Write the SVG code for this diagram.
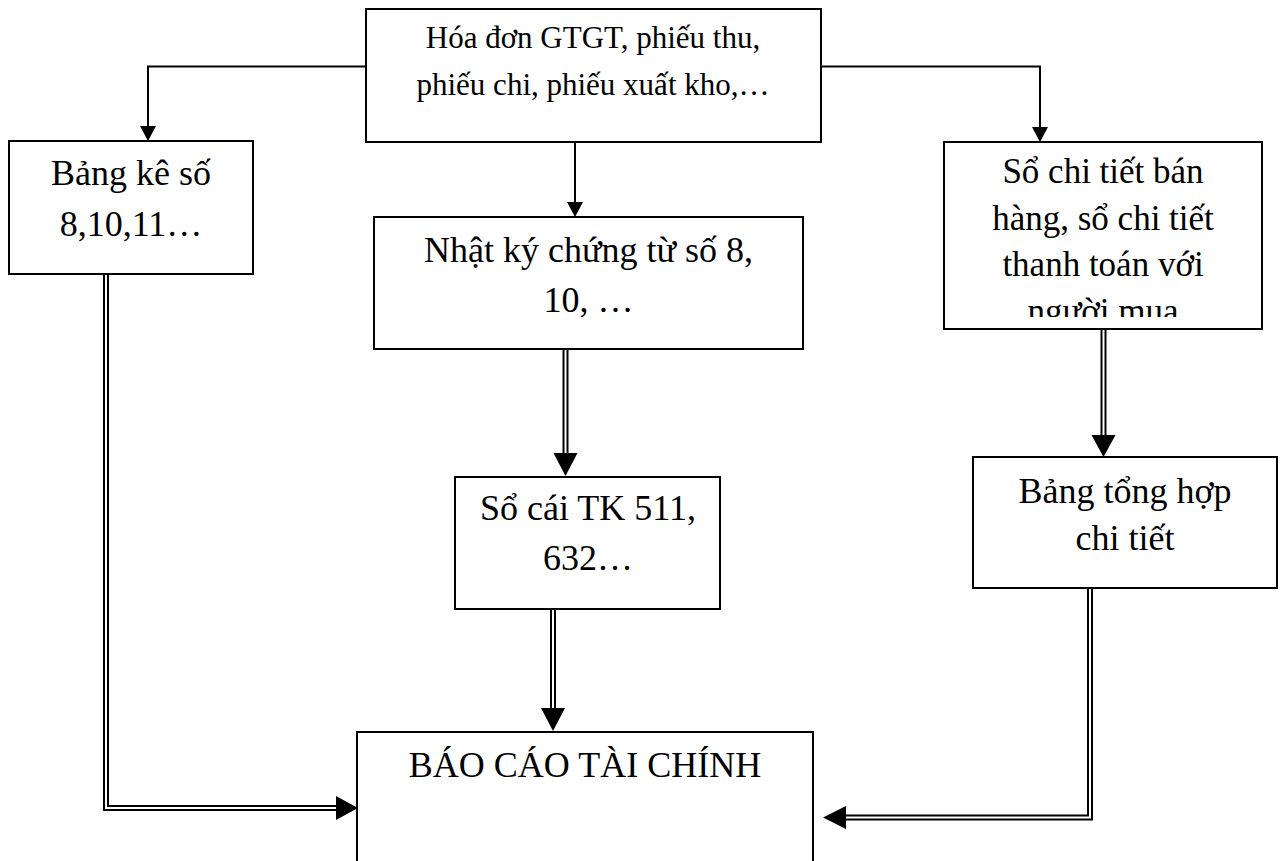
<svg xmlns="http://www.w3.org/2000/svg" width="1283" height="861" viewBox="0 0 1283 861">
  <style>
    .box { fill: #fff; stroke: #000; stroke-width: 2; }
    .lbl { font-family: "Liberation Serif", "Times New Roman", serif; fill: #000; text-anchor: middle; }
    .big { font-size: 36px; }
    .mid { font-size: 35px; }
    .small { font-size: 31px; }
    .single { fill: none; stroke: #000; stroke-width: 2; marker-end: url(#headS); }
    .dbl-out { fill: none; stroke: #000; stroke-width: 6; }
    .dbl-in { fill: none; stroke: #fff; stroke-width: 2; }
    .head { fill: #000; }
  </style>
  <defs>
    <marker id="headS" markerUnits="userSpaceOnUse" markerWidth="16" markerHeight="16" refX="0" refY="8" orient="auto" overflow="visible">
      <path d="M0,0 L15,8 L0,16 Z" fill="#000"/>
    </marker>
    <clipPath id="clipRight">
      <rect x="944" y="142" width="318" height="175"/>
    </clipPath>
  </defs>
  <rect width="1283" height="861" fill="#fff"/>

  <!-- connectors -->
  <g id="connectors">
    <!-- single-line arrows from the source documents -->
    <path class="single" d="M366,66.5 H148 V126"/>
    <path class="single" d="M821,66.5 H1040 V127"/>
    <path class="single" d="M575,142 V202"/>

    <!-- double-line arrows -->
    <path class="dbl-out" d="M565.5,349 V453"/>
    <path class="dbl-in" d="M565.5,349 V453"/>
    <polygon class="head" points="553.5,453 577.5,453 565.5,476"/>

    <path class="dbl-out" d="M553,609 V708"/>
    <path class="dbl-in" d="M553,609 V708"/>
    <polygon class="head" points="541,708 565,708 553,731"/>

    <path class="dbl-out" d="M1103.5,329 V435"/>
    <path class="dbl-in" d="M1103.5,329 V435"/>
    <polygon class="head" points="1091.5,435 1115.5,435 1103.5,457"/>

    <path class="dbl-out" d="M106,274 V808 H336"/>
    <path class="dbl-in" d="M106,274 V808 H336"/>
    <polygon class="head" points="336,796 336,820 358,808"/>

    <path class="dbl-out" d="M1090,588 V817.5 H846"/>
    <path class="dbl-in" d="M1090,588 V817.5 H846"/>
    <polygon class="head" points="846,806 846,829 823,817.5"/>
  </g>

  <!-- nodes -->
  <g id="chung-tu">
    <rect class="box" x="366" y="9" width="455" height="133"/>
    <text class="lbl small" x="593" y="48">Hóa đơn GTGT, phiếu thu,</text>
    <text class="lbl small" x="593" y="95">phiếu chi, phiếu xuất kho,…</text>
  </g>

  <g id="bang-ke">
    <rect class="box" x="9" y="141" width="244" height="133"/>
    <text class="lbl big" x="131" y="185">Bảng kê số</text>
    <text class="lbl big" x="131" y="236">8,10,11…</text>
  </g>

  <g id="nhat-ky">
    <rect class="box" x="374" y="217" width="429" height="132"/>
    <text class="lbl big" x="588.5" y="262">Nhật ký chứng từ số 8,</text>
    <text class="lbl big" x="588.5" y="312">10, …</text>
  </g>

  <g id="so-chi-tiet">
    <rect class="box" x="944" y="142" width="318" height="187"/>
    <g clip-path="url(#clipRight)">
      <text class="lbl mid" x="1103" y="183">Sổ chi tiết bán</text>
      <text class="lbl mid" x="1103" y="229.5">hàng, sổ chi tiết</text>
      <text class="lbl mid" x="1103" y="276">thanh toán với</text>
      <text class="lbl mid" x="1103" y="322.5">người mua</text>
    </g>
  </g>

  <g id="so-cai">
    <rect class="box" x="455" y="477" width="265" height="132"/>
    <text class="lbl big" x="588" y="520">Sổ cái TK 511,</text>
    <text class="lbl big" x="588" y="570">632…</text>
  </g>

  <g id="bang-tong-hop">
    <rect class="box" x="973" y="457" width="304" height="131"/>
    <text class="lbl big" x="1125" y="503">Bảng tổng hợp</text>
    <text class="lbl big" x="1125" y="550">chi tiết</text>
  </g>

  <g id="bao-cao">
    <rect class="box" x="357" y="732" width="456" height="140"/>
    <text class="lbl big" x="585" y="777">BÁO CÁO TÀI CHÍNH</text>
  </g>
</svg>
